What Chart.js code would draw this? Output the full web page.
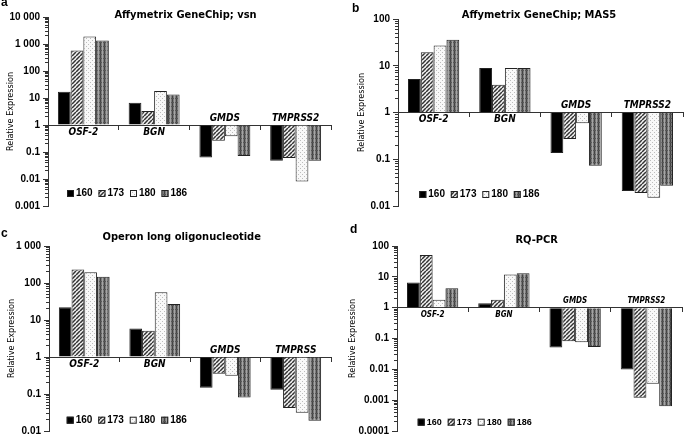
<!DOCTYPE html>
<html>
<head>
<meta charset="utf-8">
<script src="https://cdn.jsdelivr.net/npm/chart.js@4.4.1/dist/chart.umd.min.js"></script>
<style>
  html, body { margin: 0; padding: 0; background: #fff; }
  body { width: 685px; height: 440px; position: relative; overflow: hidden; }
  .panel { position: absolute; }
</style>
</head>
<body>
<div class="panel" style="left:0;top:0;width:342px;height:215px"><canvas id="chartA"></canvas></div>
<div class="panel" style="left:342px;top:0;width:343px;height:215px"><canvas id="chartB"></canvas></div>
<div class="panel" style="left:0;top:215px;width:342px;height:225px"><canvas id="chartC"></canvas></div>
<div class="panel" style="left:342px;top:215px;width:343px;height:225px"><canvas id="chartD"></canvas></div>
<script>
// ---- data ----
const genes = ['OSF-2', 'BGN', 'GMDS', 'TMPRSS2']
const genesOperon = ['OSF-2', 'BGN', 'GMDS', 'TMPRSS']
const samples = ['160', '173', '180', '186']

// a: Affymetrix GeneChip; vsn
const vsn160 = [17, 6.6, 0.062, 0.047]
const vsn173 = [580, 3.3, 0.26, 0.06]
const vsn180 = [1900, 18, 0.38, 0.008]
const vsn186 = [1350, 13.5, 0.071, 0.047]

// b: Affymetrix GeneChip; MAS5
const mas160 = [5.2, 9, 0.136, 0.021]
const mas173 = [19.5, 3.9, 0.27, 0.019]
const mas180 = [27, 9, 0.59, 0.015]
const mas186 = [36, 9, 0.073, 0.027]

// c: Operon long oligonucleotide
const op160 = [22, 5.9, 0.147, 0.13]
const op173 = [230, 5.1, 0.35, 0.042]
const op180 = [195, 56, 0.31, 0.031]
const op186 = [147, 27, 0.08, 0.019]

// d: RQ-PCR
const pcr160 = [6.6, 1.4, 0.051, 0.0098]
const pcr173 = [51, 1.8, 0.081, 0.0012]
const pcr180 = [1.8, 11.8, 0.075, 0.0034]
const pcr186 = [4.3, 13, 0.053, 0.00063]

// ---- fills ----
function makePattern(size, draw) {
    const c = document.createElement('canvas')
    c.width = size
    c.height = size
    const g = c.getContext('2d')
    draw(g, size)
    return g.createPattern(c, 'repeat')
}

const hatch = makePattern(4, (g, s) => {
    g.fillStyle = '#f4f4f4'
    g.fillRect(0, 0, s, s)
    g.strokeStyle = '#333'
    g.lineWidth = 1.5
    for (const k of [-s, 0, s]) {
        g.beginPath()
        g.moveTo(k, s)
        g.lineTo(k + s, 0)
        g.stroke()
    }
})
const dots = makePattern(4, (g, s) => {
    g.fillStyle = '#f8f8f8'
    g.fillRect(0, 0, s, s)
    g.fillStyle = '#bdbdbd'
    g.fillRect(0, 0, 1, 1)
    g.fillRect(2, 2, 1, 1)
})
const plaid = makePattern(4, (g, s) => {
    g.fillStyle = '#7c7c7c'
    g.fillRect(0, 0, s, s)
    g.fillStyle = '#444'
    g.fillRect(0, 0, 1, s)
    g.fillStyle = '#555'
    g.fillRect(0, 2, s, 1)
    g.fillStyle = '#a4a4a4'
    g.fillRect(2, 0, 1, s)
})
const fills = ['#000', hatch, dots, plaid]

// ---- panels ----
const panels = [
    { id: 'chartA', letter: 'a', title: 'Affymetrix GeneChip; vsn', labels: genes,
      data: [vsn160, vsn173, vsn180, vsn186], min: 0.001, max: 10000,
      pad: { left: 5, right: 11, top: 17, bottom: 7 }, axisW: 43,
      titleX: 185.5, titleY: 15.5, titleSize: 11, letterX: 1, letterY: 3,
      catSize: 10, legX: 67, legY: 193, legSize: 10, legStep: 31.5 },
    { id: 'chartB', letter: 'b', title: 'Affymetrix GeneChip; MAS5', labels: genes,
      data: [mas160, mas173, mas180, mas186], min: 0.01, max: 100,
      pad: { left: 14, right: 2, top: 19, bottom: 8 }, axisW: 42,
      titleX: 197, titleY: 15.5, titleSize: 11, letterX: 10, letterY: 9,
      catSize: 10, legX: 77.3, legY: 194, legSize: 10, legStep: 31.5 },
    { id: 'chartC', letter: 'c', title: 'Operon long oligonucleotide', labels: genesOperon,
      data: [op160, op173, op180, op186], min: 0.01, max: 1000,
      pad: { left: 6, right: 11, top: 31, bottom: 6 }, axisW: 43,
      titleX: 181.7, titleY: 22.5, titleSize: 11, letterX: 1, letterY: 18.5,
      catSize: 10, legX: 66.7, legY: 204.7, legSize: 10, legStep: 31.5 },
    { id: 'chartD', letter: 'd', title: 'RQ-PCR', labels: genes,
      data: [pcr160, pcr173, pcr180, pcr186], min: 0.0001, max: 100,
      pad: { left: 5, right: 3, top: 31, bottom: 4 }, axisW: 50,
      titleX: 194.7, titleY: 25.3, titleSize: 11, letterX: 8, letterY: 15,
      catSize: 8, legX: 75.7, legY: 206.7, legSize: 9, legStep: 30 }
]

function isDecade(v) {
    const l = Math.log10(v)
    return Math.abs(l - Math.round(l)) < 1e-6
}

function fmt(v) {
    if (v >= 1000) return v.toLocaleString('en-US').replace(/,/g, ' ')
    return String(v)
}

function textPlugin(p) {
    return {
        id: 'panelText',
        afterDraw(chart) {
            const { ctx, scales } = chart
            ctx.save()
            ctx.fillStyle = '#000'
            ctx.textBaseline = 'middle'

            ctx.textAlign = 'center'
            ctx.font = 'bold ' + p.titleSize + 'px "DejaVu Sans Condensed"'
            ctx.fillText(p.title, p.titleX, p.titleY)

            ctx.textAlign = 'left'
            ctx.font = 'bold 12px "Liberation Sans"'
            ctx.fillText(p.letter, p.letterX, p.letterY)

            // gene names sit next to the baseline, on the side away from the bars
            const y1 = scales.y.getPixelForValue(1)
            ctx.textAlign = 'center'
            ctx.font = 'italic bold ' + p.catSize + 'px "DejaVu Sans Condensed"'
            chart.data.labels.forEach((lab, i) => {
                const vals = chart.data.datasets.map(d => d.data[i])
                const down = Math.max(...vals) < 1
                ctx.fillText(lab, scales.x.getPixelForValue(i), down ? y1 - 7 : y1 + 7)
            })

            // legend inside the plot
            let x = p.legX
            const y = p.legY
            ctx.font = 'bold ' + p.legSize + 'px "Liberation Sans"'
            ctx.textAlign = 'left'
            chart.data.datasets.forEach(ds => {
                ctx.fillStyle = ds.backgroundColor
                ctx.fillRect(x, y - 3, 7, 7)
                ctx.strokeStyle = '#222'
                ctx.lineWidth = 1
                ctx.strokeRect(x + 0.5, y - 2.5, 6, 6)
                ctx.fillStyle = '#000'
                ctx.fillText(ds.label, x + 9, y + 0.5)
                x += p.legStep
            })
            ctx.restore()
        }
    }
}

function buildChart(p) {
    return new Chart(document.getElementById(p.id), {
        type: 'bar',
        data: {
            labels: p.labels,
            datasets: samples.map((s, i) => ({
                label: s,
                data: p.data[i],
                base: 1,
                backgroundColor: fills[i],
                borderColor: '#222',
                borderWidth: 1,
                categoryPercentage: 0.72,
                barPercentage: 1
            }))
        },
        options: {
            responsive: true,
            maintainAspectRatio: false,
            animation: false,
            layout: { padding: p.pad },
            plugins: {
                legend: { display: false },
                tooltip: { enabled: false },
                title: { display: false }
            },
            scales: {
                x: {
                    type: 'category',
                    position: { y: 1 },
                    offset: true,
                    grid: { offset: true, drawOnChartArea: false, drawTicks: true, tickLength: 4, color: '#333' },
                    border: { display: true, color: '#333', width: 1 },
                    ticks: { display: false }
                },
                y: {
                    type: 'logarithmic',
                    min: p.min,
                    max: p.max,
                    afterBuildTicks: scale => {
                        const ticks = []
                        const lo = Math.round(Math.log10(p.min))
                        const hi = Math.round(Math.log10(p.max))
                        for (let e = lo; e <= hi; e++) {
                            for (let m = 1; m <= 9; m++) {
                                if (e === hi && m > 1) break
                                ticks.push({ value: Number((m * Math.pow(10, e)).toPrecision(6)) })
                            }
                        }
                        scale.ticks = ticks
                    },
                    afterFit: scale => { scale.width = p.axisW },
                    grid: {
                        drawOnChartArea: false,
                        tickLength: 5,
                        color: '#333',
                        tickBorderDash: ctx => (ctx.tick && isDecade(ctx.tick.value)) ? [] : [3, 2],
                        tickBorderDashOffset: ctx => (ctx.tick && isDecade(ctx.tick.value)) ? 0 : 3
                    },
                    border: { display: true, color: '#333' },
                    ticks: {
                        autoSkip: false,
                        padding: 3,
                        color: '#000',
                        font: { family: 'Liberation Sans', weight: 'bold', size: 10 },
                        callback: v => isDecade(v) ? fmt(v) : ''
                    },
                    title: {
                        display: true,
                        text: 'Relative Expression',
                        color: '#000',
                        padding: 0,
                        font: { family: 'DejaVu Sans Condensed', size: 9 }
                    }
                }
            }
        },
        plugins: [textPlugin(p)]
    })
}

panels.forEach(buildChart)
</script>
</body>
</html>
